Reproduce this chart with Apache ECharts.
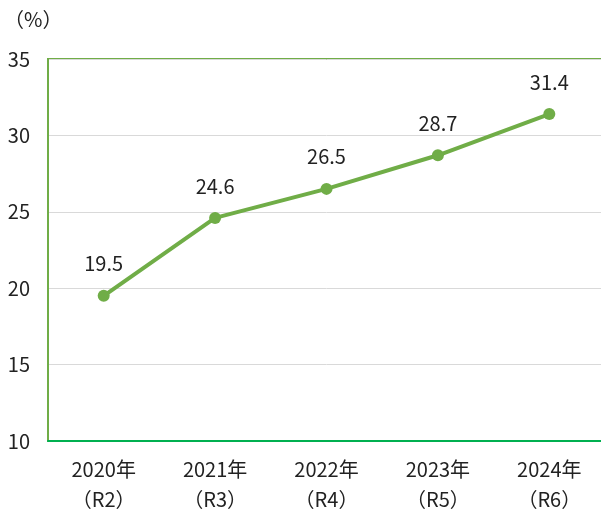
<!DOCTYPE html>
<html>
<head>
<meta charset="utf-8">
<script src="https://cdn.jsdelivr.net/npm/echarts@6/dist/echarts.min.js"></script>
<style>
  html, body { margin: 0; padding: 0; background: #fff; overflow: hidden; }
  #chart { width: 605px; height: 514px; }
</style>
</head>
<body>
<div id="chart"></div>
<script>
const years = ['2020年', '2021年', '2022年', '2023年', '2024年']
const eras = ['（R2）', '（R3）', '（R4）', '（R5）', '（R6）']
const rates = [19.5, 24.6, 26.5, 28.7, 31.4]
const yTicks = [10, 15, 20, 25, 30, 35]

const font = '"Noto Sans CJK JP"'
const green = '#70ad47'
const textColor = '#222'

// chart is a little wider than the window so the right grid edge falls off-screen
const chart = echarts.init(document.getElementById('chart'), null, { renderer: 'canvas' })
chart.setOption({
  animation: false,
  grid: {
    left: 48,
    right: 0,
    top: 59,
    bottom: 71,
    show: true,
    borderColor: green,
    borderWidth: 2
  },
  xAxis: {
    type: 'category',
    data: years.map((y, i) => y + '\n' + eras[i]),
    boundaryGap: true,
    axisLine: { lineStyle: { color: '#00b050', width: 2 } },
    axisTick: { show: false },
    axisLabel: {
      color: textColor,
      fontSize: 20,
      fontFamily: font,
      lineHeight: 30,
      margin: 13
    }
  },
  yAxis: {
    type: 'value',
    min: yTicks[0],
    max: yTicks[yTicks.length - 1],
    interval: 5,
    name: '（%）',
    nameLocation: 'end',
    nameGap: 30,
    nameTextStyle: {
      color: textColor,
      fontSize: 20,
      fontFamily: font,
      align: 'left',
      padding: [0, 0, 0, -44]
    },
    axisLine: { show: true, lineStyle: { color: green, width: 2 } },
    axisTick: { show: false },
    splitLine: { lineStyle: { color: '#d9d9d9', width: 1 } },
    axisLabel: {
      color: textColor,
      fontSize: 20,
      fontFamily: font,
      margin: 18
    }
  },
  series: [{
    type: 'line',
    data: rates,
    symbol: 'circle',
    symbolSize: 12,
    lineStyle: { color: green, width: 4 },
    itemStyle: { color: green },
    label: {
      show: true,
      position: 'top',
      distance: 16,
      color: textColor,
      fontSize: 20,
      fontFamily: font,
      formatter: p => p.value.toFixed(1)
    }
  }]
})
</script>
</body>
</html>
